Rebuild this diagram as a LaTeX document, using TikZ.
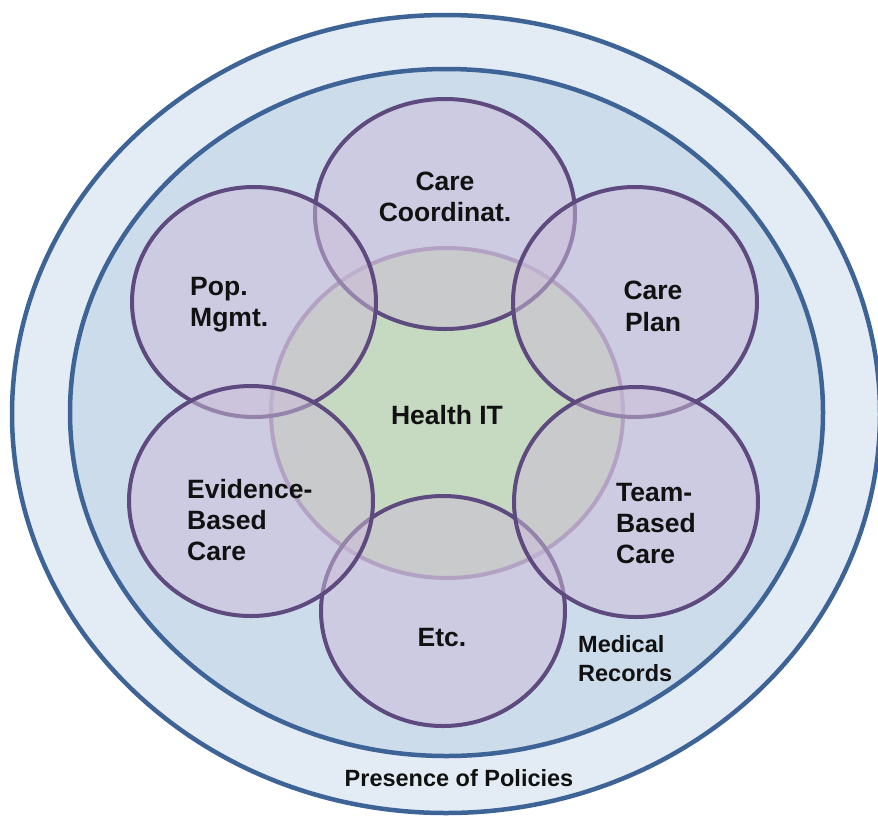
\documentclass[tikz,border=0pt]{standalone}
\usepackage{fontspec}
\setmainfont{Liberation Sans}
\usetikzlibrary{shapes.geometric}
\definecolor{ringfill}{HTML}{E3EBF5}
\definecolor{innerfill}{HTML}{CCDCEB}
\definecolor{ringline}{HTML}{3E6396}
\definecolor{hitfill}{HTML}{C6D9C1}
\definecolor{hitline}{HTML}{9A88B0}
\definecolor{purfill}{RGB}{204,188,216}
\definecolor{purline}{HTML}{5E4A7E}
\definecolor{txt}{HTML}{111111}
\tikzset{
  ring/.style={draw=ringline, line width=4.5pt},
  petal/.style={draw=purline, line width=4pt, fill=purfill, fill opacity=0.5},
  hub/.style={draw=hitline, line width=4pt, fill=hitfill},
  mainlbl/.style={inner sep=0pt, text=txt, font=\fontsize{26.5}{31}\selectfont\bfseries},
  smalllbl/.style={inner sep=0pt, text=txt, font=\fontsize{23.5}{29}\selectfont\bfseries},
}
\begin{document}
\begin{tikzpicture}[x=1pt,y=-1pt]
\useasboundingbox (0,0) rectangle (878,815);
\fill[white] (0,0) rectangle (878,815);
% rings
\draw[ring, fill=ringfill] (446,414) ellipse [x radius=434, y radius=399];
\draw[ring, fill=innerfill] (446.5,412.5) ellipse [x radius=376.5, y radius=343.5];
% hub
\draw[hub] (447,413) ellipse [x radius=176, y radius=165];
% petals
\draw[petal] (445,214) ellipse [x radius=130, y radius=115];
\draw[petal] (443,611) ellipse [x radius=122, y radius=115];
\draw[petal] (254,302) ellipse [x radius=122, y radius=115];
\draw[petal] (635,302) ellipse [x radius=122, y radius=115];
\draw[petal] (251,501) ellipse [x radius=122, y radius=115];
\draw[petal] (636,502) ellipse [x radius=122, y radius=115];
% labels (base anchor = baseline of last line)
\node[mainlbl, anchor=base, align=center] (cc) at (445,221) {Care\\Coordinat.};
\node[mainlbl, anchor=base west, align=left] (pop) at (190,326) {Pop.\\Mgmt.};
\node[mainlbl, anchor=base, align=center] (cp) at (653,331) {Care\\[1pt]Plan};
\node[mainlbl, anchor=base] (hit) at (447,424) {Health IT};
\node[mainlbl, anchor=base west, align=left] (ebc) at (187,560) {Evidence-\\Based\\Care};
\node[mainlbl, anchor=base west, align=left] (tbc) at (616,563) {Team-\\Based\\Care};
\node[mainlbl, anchor=base] (etc) at (442,646) {Etc.};
\node[smalllbl, anchor=base west, align=left] (mr) at (578,681) {Medical\\Records};
\node[smalllbl, anchor=base] (pol) at (459,786.5) {Presence of Policies};
\end{tikzpicture}
\end{document}
